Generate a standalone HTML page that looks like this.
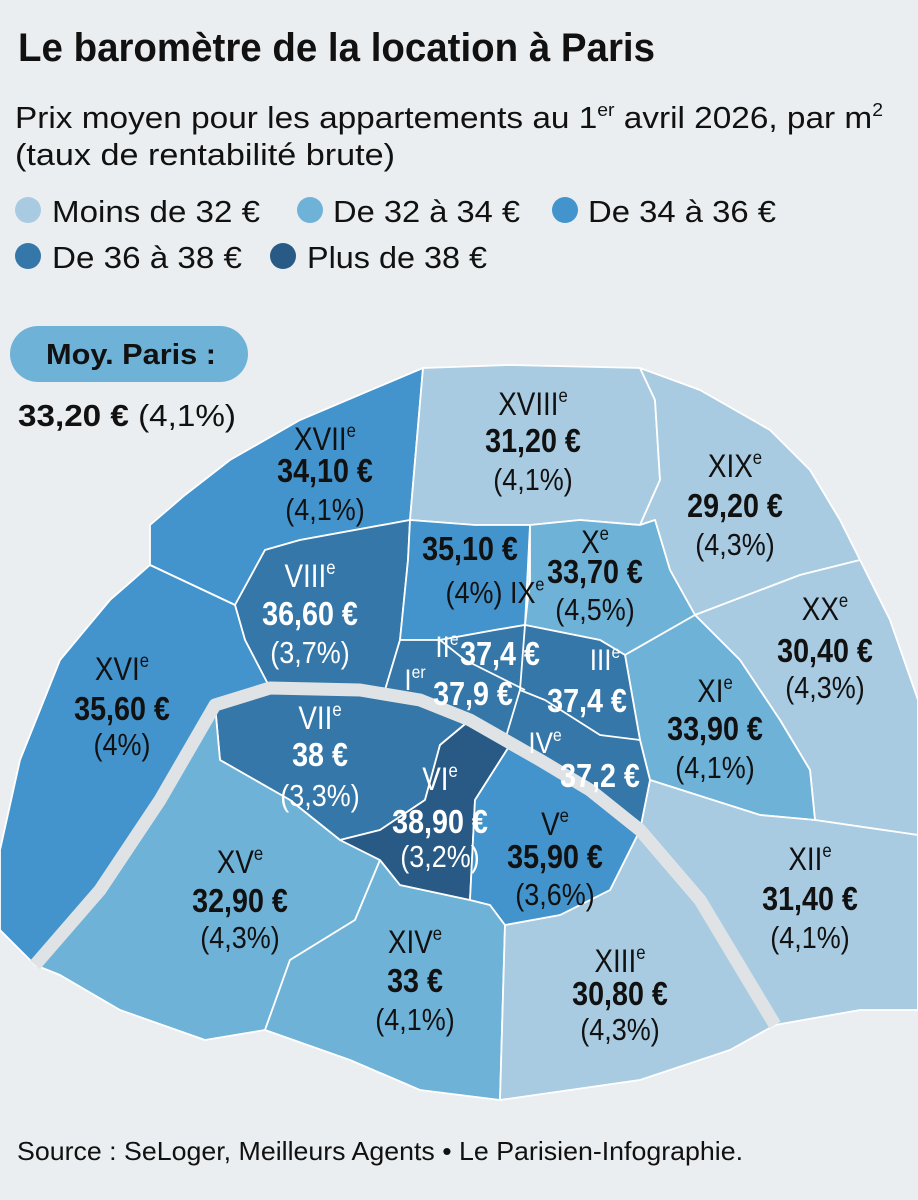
<!DOCTYPE html>
<html><head><meta charset="utf-8"><style>
html,body{margin:0;padding:0;background:#eaeef0;}
svg{display:block;font-family:"Liberation Sans Narrow","Liberation Sans",sans-serif;}
</style></head><body>
<svg id="chart" width="918" height="1200" viewBox="0 0 918 1200" xmlns="http://www.w3.org/2000/svg">
<rect width="918" height="1200" fill="#eaeef0"/>
<text x="18" y="61" font-size="40" font-weight="bold" fill="#111" textLength="637" lengthAdjust="spacingAndGlyphs">Le baromètre de la location à Paris</text>
<text x="15" y="128" font-size="31" fill="#111" textLength="868" lengthAdjust="spacingAndGlyphs">Prix moyen pour les appartements au 1<tspan font-size="18" dy="-12">er</tspan><tspan dy="12"> avril 2026, par m</tspan><tspan font-size="18" dy="-12">2</tspan></text>
<text x="15" y="165" font-size="31" fill="#111" textLength="380" lengthAdjust="spacingAndGlyphs">(taux de rentabilité brute)</text>
<g id="legend"></g>
<g id="map"></g>
<g>
<rect x="10" y="326" width="238" height="56" rx="28" fill="#6fb2d8"/>
<text x="46" y="364" font-size="29" font-weight="bold" fill="#111" textLength="170" lengthAdjust="spacingAndGlyphs">Moy. Paris :</text>
<text x="18" y="426" font-size="31" fill="#111" textLength="218" lengthAdjust="spacingAndGlyphs"><tspan font-weight="bold">33,20 €</tspan> (4,1%)</text>
</g>
<text x="17" y="1160" font-size="26" fill="#111" textLength="726" lengthAdjust="spacingAndGlyphs">Source : SeLoger, Meilleurs Agents • Le Parisien-Infographie.</text>
</svg>
<script>
const legendLabels = ["Moins de 32 €","De 32 à 34 €","De 34 à 36 €","De 36 à 38 €","Plus de 38 €"];
const colors = ["#a8cbe2","#6fb2d8","#4394cd","#3577a8","#285a85"];
const thresholds = [32,34,36,38];
const names = ["XVII","XVIII","XIX","VIII","IX","X","XX","XVI","VII","XI","XV","XII","XIV","XIII","VI","V","CENTRE"];
const prices = [34.10,31.20,29.20,36.60,35.10,33.70,30.40,35.60,38,33.90,32.90,31.40,33,30.80,38.90,35.90,37.4];
const priceLabels = ["34,10 €","31,20 €","29,20 €","36,60 €","35,10 €","33,70 €","30,40 €","35,60 €","38 €","33,90 €","32,90 €","31,40 €","33 €","30,80 €","38,90 €","35,90 €",""];
const rateLabels = ["(4,1%)","(4,1%)","(4,3%)","(3,7%)","(4%)","(4,5%)","(4,3%)","(4%)","(3,3%)","(4,1%)","(4,3%)","(4,1%)","(4,1%)","(4,3%)","(3,2%)","(3,6%)",""];
const centreNames = ["I","II","III","IV"];
const centrePrices = [37.9,37.4,37.4,37.2];
const centreLabels = ["37,9 €","37,4 €","37,4 €","37,2 €"];

const shapes = [
"150,525 185,495 230,460 300,420 423,368 410,520 300,540 265,550 235,605 150,565",
"423,368 510,365 640,368 655,400 660,480 640,525 580,520 530,525 475,525 410,520",
"640,368 700,390 770,430 810,470 840,520 860,560 800,575 695,615 670,570 655,520 640,525 660,480 655,400",
"265,550 300,540 410,520 408,560 400,640 385,690 330,690 270,688 245,640 235,605",
"410,520 475,525 530,525 525,625 495,630 440,640 400,640 408,560",
"530,525 580,520 640,525 655,520 670,570 695,615 625,655 600,640 525,625 530,580",
"695,615 800,575 860,560 890,620 918,700 918,835 815,820 810,770 780,720 740,660",
"150,565 235,605 245,640 270,688 215,705 160,800 100,890 35,965 0,930 0,850 20,760 60,660 110,600",
"215,705 270,688 360,690 420,700 470,720 440,745 425,800 380,830 340,840 290,800 220,760",
"625,655 695,615 740,660 780,720 810,770 815,820 760,815 650,780 640,740",
"35,965 100,890 160,800 215,705 220,760 290,800 340,840 380,860 355,920 290,960 265,1030 205,1040 120,1010 60,975",
"640,830 700,900 775,1025 860,1010 918,1010 918,835 815,820 760,815 650,780",
"380,860 400,885 470,900 490,905 505,925 500,1100 420,1090 350,1060 265,1030 290,960 355,920",
"505,925 560,915 610,890 640,830 700,900 775,1025 730,1050 640,1080 500,1100",
"470,720 510,745 475,800 470,900 400,885 380,860 340,840 380,830 425,800 440,745",
"510,745 545,765 590,790 640,830 610,890 560,915 505,925 490,905 470,900 475,800",
"400,640 440,640 495,630 525,625 600,640 625,655 640,740 650,780 640,830 590,790 545,765 510,745 470,720 420,700 385,690"
];
// label layout: [x, nameY, priceY, rateY]
const layout = [[325,450,482,520],[533,415,452,490],[735,477,517,555],[310,587,625,663],[470,0,560,603],[595,553,583,620],[825,620,662,698],[122,680,720,755],[320,729,766,806],[715,702,740,778],[240,873,912,948],[810,870,910,948],[415,953,992,1030],[620,972,1005,1040],[440,790,833,867],[555,835,868,905]];
const centreLayout = [[415,690,473,705],[447,657,500,665],[605,670,587,712],[545,753,600,787]];

function colorScale(v){let i=0;while(i<thresholds.length&&v>thresholds[i])i++;return colors[i];}
const NS="http://www.w3.org/2000/svg";
function mk(tag,attrs,parent){const e=document.createElementNS(NS,tag);for(const k in attrs)e.setAttribute(k,attrs[k]);parent.appendChild(e);return e;}

const lg=document.getElementById('legend');
const legPos=[[28,222,52,260],[310,222,333,520],[565,222,588,776],[28,268,52,242],[283,268,307,487]];
legendLabels.forEach((l,i)=>{
  const g=mk('g',{},lg);
  
  
  const c=mk('circle',{cx:legPos[i][0],cy:legPos[i][1]-12,r:13,fill:colors[i]},g);
  
  
  const t=mk('text',{x:legPos[i][2],y:legPos[i][1],'font-size':31,fill:'#111',textLength:legPos[i][3]-legPos[i][2],lengthAdjust:'spacingAndGlyphs'},g);
  t.textContent=l;
  
  
});

const map=document.getElementById('map');
shapes.forEach((s,i)=>{
  const p=mk('polygon',{points:s,fill:colorScale(prices[i]),stroke:'#ffffff','stroke-width':1.8,'stroke-linejoin':'round'},map);
  
  
});
const cb=mk('path',{d:"M440,640 L465,660 L525,690 M525,625 L520,690 L505,740 L470,720 M520,690 L545,700 L600,735 L640,740",fill:'none',stroke:'#fff','stroke-width':1.8},map);


const seine=mk('polyline',{points:"35,965 100,890 160,800 215,705 270,688 360,690 420,700 470,720 540,760 590,790 640,830 700,900 775,1025",fill:'none',stroke:'#dfe3e5','stroke-width':13,'stroke-linejoin':'round'},map);



function label(x,y,txt,size,bold,fill,sup,parent){
  const t=mk('text',{x:0,y:0,transform:'translate('+x+','+y+') scale(0.87,1)','font-size':size,'font-weight':bold?'bold':'normal',fill:fill,'text-anchor':'middle'},parent);
  t.textContent=txt;
  if(sup){const s=mk('tspan',{'font-size':size*0.6,dy:-size*0.4},t);s.textContent=sup;}
  return t;
}
const darkIdx=new Set([3,8,14]);
layout.forEach((L,i)=>{
  const g=mk('g',{},map);
  
  
  const f=darkIdx.has(i)?'#ffffff':'#111111';
  if(L[1]>0){const n=label(L[0],L[1],names[i],32,false,f,'e',g);}
  const p=label(L[0],L[2],priceLabels[i],33,true,f,null,g);
  
  
  const r=label(L[0]+(i===4?25:0),L[3],rateLabels[i]+(i===4?' IX':''),31,false,f,i===4?'e':null,g);
  
  
});
centreNames.forEach((n,i)=>{
  const L=centreLayout[i];
  const g=mk('g',{},map);
  
  
  const a=label(L[0],L[1],n,30,false,'#fff',i===0?'er':'e',g);
  
  
  const b=label(L[2],L[3],centreLabels[i],33,true,'#fff',null,g);
  
  
});
</script>
</body></html>
